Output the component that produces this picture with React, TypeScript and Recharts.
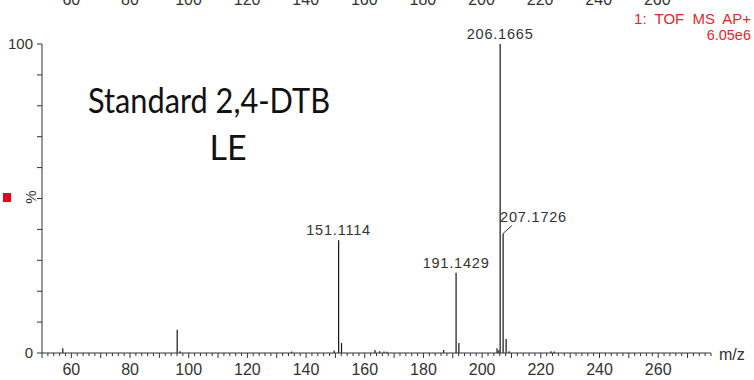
import { BarChart, Bar, XAxis, YAxis, LabelList } from 'recharts';

// spectrum peaks, m/z and relative intensity (%)
const peakMz = [
	57.1, 96.1, 97.1, 135.1, 149.6, 151.1114, 152.1, 163.5, 165.1, 166.6, 167.6, 186.9, 191.1429, 192.1, 205.1, 205.7,
	206.1665, 207.1726, 208.2, 209.2, 223.5, 224.6,
];
const peakIntensity = [
	1.5, 7.5, 0.6, 0.5, 0.8, 36.5, 3.2, 1.0, 0.6, 0.5, 0.4, 1.0, 26, 3.2, 1.5, 0.9, 100, 38.7, 4.5, 0.6, 0.6, 0.5,
];
const labelledPeaks = [151.1114, 191.1429, 206.1665, 207.1726];

const xTickLabels = [60, 80, 100, 120, 140, 160, 180, 200, 220, 240, 260];
const yTicks = [0, 10, 20, 30, 40, 50, 60, 70, 80, 90, 100];
const yTickLabels = [0, 100];

const X_MIN = 50;
const X_MAX = 278;

const data = peakMz.map((mz, i) => ({ mz, intensity: peakIntensity[i] }));

const xTicks: number[] = [];
for (let v = X_MIN; v <= X_MAX; v += 2) xTicks.push(v);

const axisColor = '#333';
const font = '"Liberation Sans", Arial, sans-serif';

function XTick({ x, y, payload }: any) {
	const v = payload.value;
	const major = v % 10 === 0;
	return (
		<g>
			<line x1={x} x2={x} y1={y} y2={y + (major ? 5 : 3)} stroke={axisColor} strokeWidth={1} />
			{xTickLabels.includes(v) && (
				<text x={x} y={y + 22} textAnchor='middle' fontSize={16} fontFamily={font} fill={axisColor}>
					{v}
				</text>
			)}
		</g>
	);
}

function YTick({ x, y, payload }: any) {
	const v = payload.value;
	return (
		<g>
			<line x1={x - 5} x2={x} y1={y} y2={y} stroke={axisColor} strokeWidth={1} />
			{yTickLabels.includes(v) && (
				<text x={x - 9} y={y + 5} textAnchor='end' fontSize={15} fontFamily={font} fill={axisColor}>
					{v}
				</text>
			)}
		</g>
	);
}

function PeakLabel(props: any) {
	const { x, y, width, value } = props;
	if (!labelledPeaks.includes(value)) return null;
	const cx = x + width / 2;
	const text = value.toFixed(4);
	if (value === 207.1726) {
		return (
			<g>
				<line x1={cx} y1={y} x2={cx + 9} y2={y - 8} stroke={axisColor} strokeWidth={1} />
				<text x={cx - 3} y={y - 11} fontSize={14.5} letterSpacing={0.8} fontFamily={font} fill={axisColor}>
					{text}
				</text>
			</g>
		);
	}
	return (
		<text x={cx} y={y - 5} textAnchor='middle' fontSize={14.5} letterSpacing={0.8} fontFamily={font} fill={axisColor}>
			{text}
		</text>
	);
}

export default function App() {
	return (
		<div style={{ position: 'absolute', left: 0, top: 0, width: 754, height: 380, background: '#fff' }}>
			<BarChart width={754} height={380} data={data} margin={{ top: 44, right: 43, left: 0, bottom: 0 }}>
				<XAxis
					dataKey='mz'
					type='number'
					domain={[X_MIN, X_MAX]}
					ticks={xTicks}
					interval={0}
					allowDataOverflow
					tick={<XTick />}
					tickLine={false}
					tickSize={0}
					tickMargin={0}
					height={27}
					stroke={axisColor}
				/>
				<YAxis
					type='number'
					domain={[0, 100]}
					ticks={yTicks}
					interval={0}
					tick={<YTick />}
					tickLine={false}
					tickSize={0}
					tickMargin={0}
					width={42}
					stroke={axisColor}
				/>
				<Bar dataKey='intensity' fill='#1a1a1a' barSize={1.5} isAnimationActive={false}>
					<LabelList dataKey='mz' content={<PeakLabel />} />
				</Bar>
			</BarChart>
			<svg width={754} height={380} style={{ position: 'absolute', left: 0, top: 0, pointerEvents: 'none' }}>
				{xTickLabels.map((v) => (
					<text
						key={v}
						x={71.3 + (v - 60) * 2.93}
						y={5}
						textAnchor='middle'
						fontSize={16}
						fontFamily={font}
						fill={axisColor}>
						{v}
					</text>
				))}
				<text x={751} y={24} textAnchor='end' fontSize={15} wordSpacing={4} fontFamily={font} fill='#e8262a'>
					1: TOF MS AP+
				</text>
				<text x={751} y={40} textAnchor='end' fontSize={14.5} fontFamily={font} fill='#e8262a'>
					6.05e6
				</text>
				<text
					x={88}
					y={113}
					fontSize={34}
					fontFamily='Lato, "Open Sans", sans-serif'
					fill='#111'
					textLength={242}
					lengthAdjust='spacingAndGlyphs'>
					Standard 2,4-DTB
				</text>
				<text x={228} y={160} textAnchor='middle' fontSize={34} fontFamily='Lato, "Open Sans", sans-serif' fill='#111'>
					LE
				</text>
				<text
					x={36}
					y={197}
					textAnchor='middle'
					fontSize={15}
					fontFamily={font}
					fill={axisColor}
					transform='rotate(-90 36 197)'>
					%
				</text>
				<rect x={3} y={193} width={8} height={9} fill='#e8001c' />
				<text x={719} y={360} fontSize={16} fontFamily={font} fill={axisColor}>
					m/z
				</text>
			</svg>
		</div>
	);
}
